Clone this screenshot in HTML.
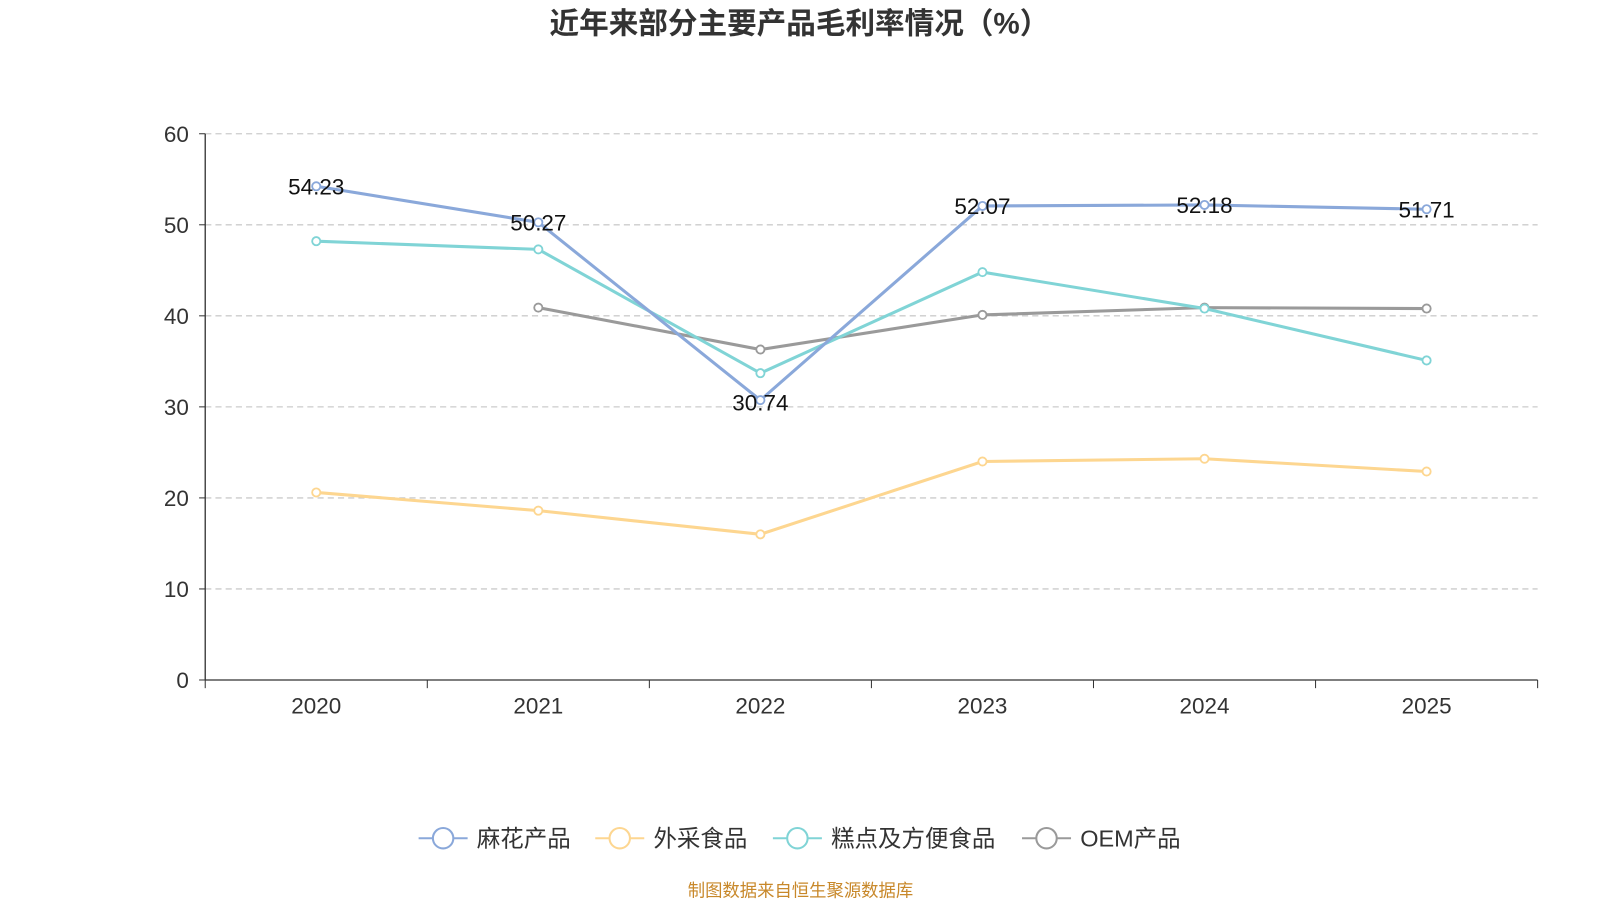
<!DOCTYPE html>
<html><head><meta charset="utf-8"><style>
body{margin:0;background:#fff;width:1600px;height:900px;overflow:hidden}
svg text{font-family:"Liberation Sans","Noto Sans CJK SC",sans-serif}
</style></head><body>
<svg id="c" width="1600" height="900">
<g transform="scale(1.021)">
<text x="783" y="33" text-anchor="middle" font-size="29" font-weight="bold" fill="#333">近年来部分主要产品毛利率情况（%）</text>
<g id="grid"></g><g id="axes"></g><g id="series"></g><g id="legend"></g>
<text x="784" y="878" text-anchor="middle" font-size="17" fill="#c8882a">制图数据来自恒生聚源数据库</text>
</g>
</svg>
<script>
const categories=["2020","2021","2022","2023","2024","2025"];
const yTicks=[0,10,20,30,40,50,60];
const mahua=[54.23,50.27,30.74,52.07,52.18,51.71];
const waicai=[20.6,18.6,16.0,24.0,24.3,22.9];
const gaodian=[48.2,47.3,33.7,44.8,40.8,35.1];
const oem=[null,40.9,36.3,40.1,40.9,40.8];
const names=["麻花产品","外采食品","糕点及方便食品","OEM产品"];
const colors=["#8aa8da","#fdd690","#80d4d6","#9a9a9a"];
const seriesData=[mahua,waicai,gaodian,oem];
const L=201,R=1506,B=666,T=131;
const bw=(R-L)/categories.length;
const x=i=>L+bw*(i+0.5);
const y=v=>B-(v/60)*(B-T);
const NS="http://www.w3.org/2000/svg";
function mk(t,a,p){const e=document.createElementNS(NS,t);for(const k in a)e.setAttribute(k,a[k]);p.appendChild(e);return e;}
const grid=document.getElementById('grid'),axes=document.getElementById('axes'),sg=document.getElementById('series'),lg=document.getElementById('legend');
yTicks.forEach(v=>{
 if(v>0){const g=mk('line',{x1:L,x2:R,y1:y(v),y2:y(v),stroke:'#ccc','stroke-dasharray':'6,4','stroke-width':1.3},grid);
 
 }
 const t=mk('text',{x:185,y:y(v)+8,'text-anchor':'end','font-size':22,fill:'#333'},axes);t.textContent=v;
 
 
 mk('line',{x1:195,x2:L,y1:y(v),y2:y(v),stroke:'#333'},axes);
});
mk('line',{x1:L,x2:L,y1:T,y2:B,stroke:'#333','stroke-width':1.3},axes);
mk('line',{x1:L,x2:R,y1:B,y2:B,stroke:'#333','stroke-width':1.3},axes);
for(let i=0;i<=categories.length;i++)mk('line',{x1:L+bw*i,x2:L+bw*i,y1:B,y2:B+8,stroke:'#333'},axes);
categories.forEach((c,i)=>{const t=mk('text',{x:x(i),y:699,'text-anchor':'middle','font-size':22,fill:'#333'},axes);t.textContent=c;
 
 });
[1,3,2,0].forEach(s=>{
 const d=seriesData[s];let p='';
 d.forEach((v,i)=>{if(v!=null)p+=(p?'L':'M')+x(i)+','+y(v);});
 const g=mk('g',{},sg);
 
 
 mk('path',{d:p,fill:'none',stroke:colors[s],'stroke-width':3},g);
 d.forEach((v,i)=>{if(v==null)return;const c=mk('circle',{cx:x(i),cy:y(v),r:4,fill:'#fff',stroke:colors[s],'stroke-width':1.8},g);
  
  
  if(s===0){const t=mk('text',{x:x(i),y:y(v)+(i==2?10:8),'text-anchor':'middle','font-size':22,fill:'#111'},g);t.textContent=v.toFixed(2);
   
   }
 });
});
const lx=[410,583,757,1001];
names.forEach((n,i)=>{
 const g=mk('g',{},lg);
 
 
 mk('line',{x1:lx[i],x2:lx[i]+48,y1:821,y2:821,stroke:colors[i],'stroke-width':2},g);
 mk('circle',{cx:lx[i]+24,cy:821,r:10,fill:'#fff',stroke:colors[i],'stroke-width':2},g);
 const t=mk('text',{x:lx[i]+57,y:829,'font-size':23,fill:'#333'},g);t.textContent=n;
});
</script>
</body></html>
